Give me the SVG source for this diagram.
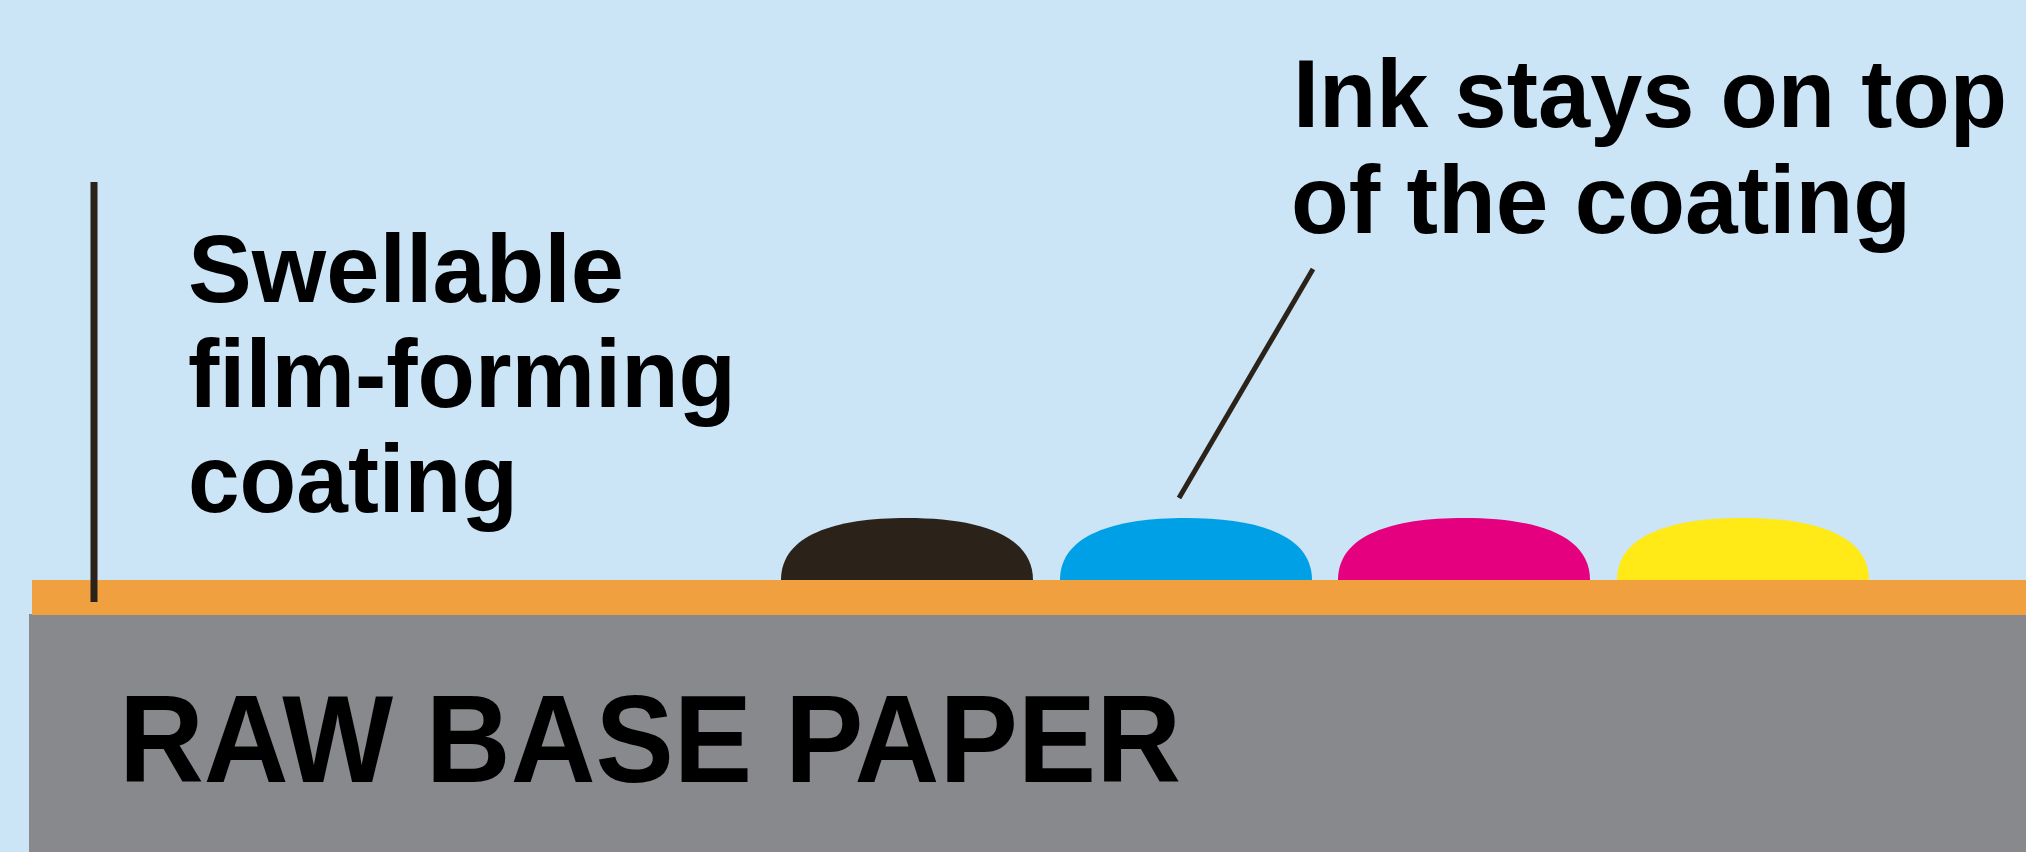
<svg xmlns="http://www.w3.org/2000/svg" width="2026" height="852" viewBox="0 0 2026 852">
<style>
.lbl{font-family:"Liberation Sans",Arial,sans-serif;font-weight:bold;fill:#000;}
.lead{stroke:#2B221A;fill:none;}
</style>
<defs>
<path id="drop" d="M0,62 C0,17 54,0 126,0 C198,0 252,17 252,62 Z"/>
</defs>
<rect id="background" x="0" y="0" width="2026" height="852" fill="#CBE4F6"/>
<g id="paper">
<rect x="29" y="614" width="1997" height="238" fill="#88898D"/>
<text class="lbl" x="119" y="782" font-size="124" textLength="1062" lengthAdjust="spacingAndGlyphs">RAW BASE PAPER</text>
</g>
<g id="coating">
<rect x="32" y="580" width="1994" height="35" fill="#F0A03F"/>
</g>
<g id="inks">
<use href="#drop" x="781" y="518" fill="#2B221A"/>
<use href="#drop" x="1060" y="518" fill="#00A0E6"/>
<use href="#drop" x="1338" y="518" fill="#E4007F"/>
<use href="#drop" x="1617" y="518" fill="#FFE916"/>
</g>
<g id="label-coating">
<text class="lbl" font-size="96"><tspan x="188" y="302" textLength="436" lengthAdjust="spacingAndGlyphs">Swellable</tspan><tspan x="188" y="407" textLength="548" lengthAdjust="spacingAndGlyphs">film-forming</tspan><tspan x="188" y="512" textLength="330" lengthAdjust="spacingAndGlyphs">coating</tspan></text>
</g>
<g id="label-ink">
<text class="lbl" font-size="96"><tspan x="1293" y="127" textLength="714" lengthAdjust="spacingAndGlyphs">Ink stays on top</tspan><tspan x="1291" y="233" textLength="620" lengthAdjust="spacingAndGlyphs">of the coating</tspan></text>
</g>
<g id="connectors">
<line class="lead" x1="94" y1="182" x2="94" y2="602" stroke-width="7"/>
<line class="lead" x1="1313" y1="269" x2="1179" y2="498" stroke-width="5"/>
</g>
</svg>
